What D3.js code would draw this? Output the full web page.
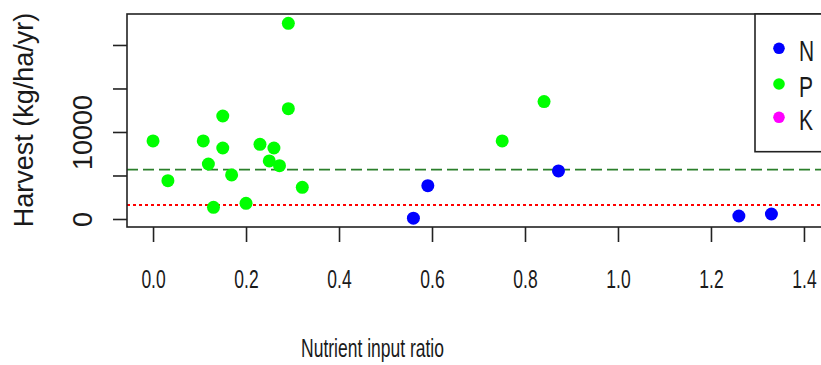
<!DOCTYPE html>
<html>
<head>
<meta charset="utf-8">
<script src="https://cdn.jsdelivr.net/npm/d3@7"></script>
<style>
  html, body { margin: 0; padding: 0; background: #fff; }
  svg { display: block; }
  text { font-family: "Liberation Sans", Arial, sans-serif; fill: #1a1a1a; }
</style>
</head>
<body>
<svg id="chart" width="821" height="365"></svg>
<script>
// ---- data ----
const nRatio   = [0.56, 0.591, 0.872, 1.26, 1.33];
const nHarvest = [100, 3830, 5520, 345, 575];
const pRatio   = [0.0, 0.032, 0.108, 0.119, 0.13, 0.15, 0.15, 0.169, 0.2, 0.23, 0.25, 0.26, 0.272, 0.291, 0.291, 0.321, 0.751, 0.841];
const pHarvest = [8970, 4400, 8970, 6320, 1340, 11840, 8160, 5060, 1800, 8580, 6670, 8160, 6130, 22490, 12680, 3640, 8970, 13490];
const kRatio   = [];
const kHarvest = [];
const xTicks = [0.0, 0.2, 0.4, 0.6, 0.8, 1.0, 1.2, 1.4];
const yTicks = [0, 5000, 10000, 15000, 20000];
const yTickLabels = ["0", "", "10000", "", ""];
const dashedLineValue = 5670;
const dottedLineValue = 1610;
const legendLabels = ["N", "P", "K"];
const legendColors = ["#0000ff", "#00ff00", "#ff00ff"];

(function () {
const svg = d3.select("#chart");
const pLeft = 127, pRight = 830, pTop = 14, pBottom = 227;

const x = d3.scaleLinear().domain([-0.056, 1.456]).range([pLeft, pRight]);
const y = d3.scaleLinear().domain([-920, 23560]).range([pBottom, pTop]);

// reference lines
svg.append("line")
  .attr("x1", pLeft).attr("x2", pRight)
  .attr("y1", y(dashedLineValue)).attr("y2", y(dashedLineValue))
  .attr("stroke", "#2b7f2b").attr("stroke-width", 1.6)
  .attr("stroke-dasharray", "11,5");
svg.append("line")
  .attr("x1", pLeft).attr("x2", pRight)
  .attr("y1", y(dottedLineValue)).attr("y2", y(dottedLineValue))
  .attr("stroke", "#ff0000").attr("stroke-width", 1.8)
  .attr("stroke-dasharray", "3,3");

// points
const series = [
  {xs: nRatio, ys: nHarvest, color: legendColors[0]},
  {xs: pRatio, ys: pHarvest, color: legendColors[1]},
  {xs: kRatio, ys: kHarvest, color: legendColors[2]}
];
series.forEach(s => {
  svg.append("g").selectAll("circle")
    .data(s.xs.map((v, i) => [v, s.ys[i]]))
    .join("circle")
    .attr("cx", d => x(d[0]))
    .attr("cy", d => y(d[1]))
    .attr("r", 6.5)
    .attr("fill", s.color);
});

// plot frame
svg.append("rect")
  .attr("x", pLeft).attr("y", pTop)
  .attr("width", pRight - pLeft).attr("height", pBottom - pTop)
  .attr("fill", "none").attr("stroke", "#222").attr("stroke-width", 1.6);

// x axis
const xAxis = d3.axisBottom(x).tickValues(xTicks).tickSize(15).tickSizeOuter(0)
  .tickFormat(d3.format(".1f"));
const gx = svg.append("g").attr("transform", `translate(0,${pBottom})`).call(xAxis);
gx.select(".domain").remove();
gx.selectAll(".tick line").attr("stroke", "#222").attr("stroke-width", 1.6);
gx.selectAll(".tick text")
  .attr("y", 0).attr("dy", 0)
  .attr("transform", "translate(0,61) scale(0.7,1)")
  .attr("font-size", 25).attr("fill", "#1a1a1a")
  .attr("font-family", "Liberation Sans, Arial, sans-serif");

// y axis
const yAxis = d3.axisLeft(y).tickValues(yTicks).tickSize(14).tickSizeOuter(0)
  .tickFormat((d, i) => yTickLabels[i]);
const gy = svg.append("g").attr("transform", `translate(${pLeft},0)`).call(yAxis);
gy.select(".domain").remove();
gy.selectAll(".tick line").attr("stroke", "#222").attr("stroke-width", 1.6);
gy.selectAll(".tick text")
  .attr("x", 0).attr("y", 0).attr("dy", 0)
  .attr("text-anchor", "middle")
  .attr("transform", "translate(-35,0) rotate(-90)")
  .attr("font-size", 27).attr("fill", "#1a1a1a")
  .attr("font-family", "Liberation Sans, Arial, sans-serif");

// axis titles
svg.append("text")
  .attr("transform", "translate(372.5,356.5) scale(0.7,1)")
  .attr("text-anchor", "middle").attr("font-size", 25)
  .text("Nutrient input ratio");
svg.append("text")
  .attr("transform", "translate(33,120) rotate(-90)")
  .attr("text-anchor", "middle").attr("font-size", 27)
  .text("Harvest (kg/ha/yr)");

// legend
svg.append("rect")
  .attr("x", 755).attr("y", pTop)
  .attr("width", 120).attr("height", 151.7 - pTop)
  .attr("fill", "#fff").attr("stroke", "#222").attr("stroke-width", 1.6);
const legendY = [48.3, 84, 117.3];
legendLabels.forEach((lab, i) => {
  svg.append("circle").attr("cx", 779).attr("cy", legendY[i]).attr("r", 5.8)
    .attr("fill", legendColors[i]);
  svg.append("text")
    .attr("transform", `translate(799,${legendY[i] + 12.5}) scale(0.7,1)`)
    .attr("font-size", 30)
    .text(lab);
});
})();
</script>
</body>
</html>
